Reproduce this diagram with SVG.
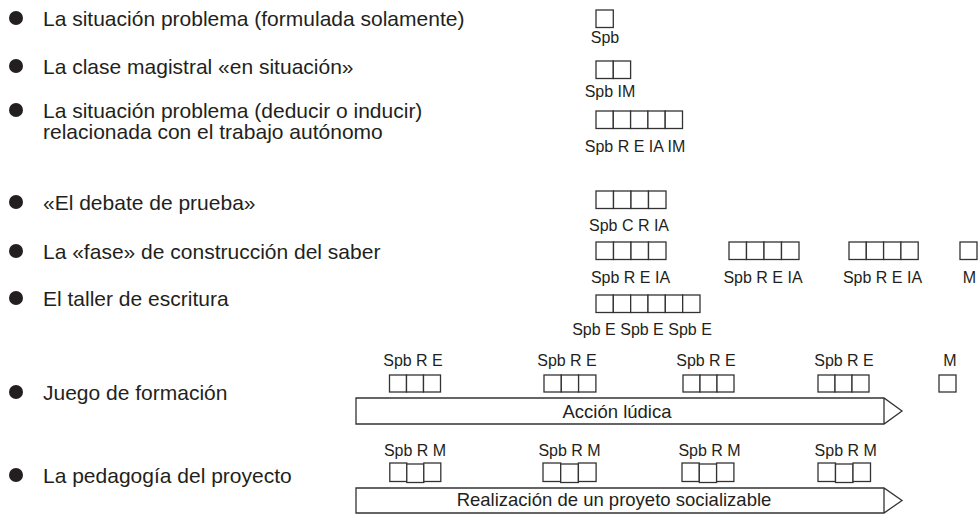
<svg xmlns="http://www.w3.org/2000/svg" width="979" height="514" viewBox="0 0 979 514">
<style>
  .main{font-family:"Liberation Sans",Arial,Helvetica,sans-serif;font-size:21px;fill:#231f20}
  .lbl{font-family:"Liberation Sans",Arial,Helvetica,sans-serif;font-size:16px;fill:#231f20;text-anchor:middle}
  .bar{font-family:"Liberation Sans",Arial,Helvetica,sans-serif;font-size:18.5px;fill:#231f20;text-anchor:middle}
  .bx{fill:#fff;stroke:#333;stroke-width:1.3}
  .arr{fill:#fff;stroke:#333;stroke-width:1.3;stroke-linejoin:miter}
  .dot{fill:#231f20}
</style>
<rect width="979" height="514" fill="#fff"/>

<g id="row1">
  <circle class="dot" cx="16" cy="18" r="7"/>
  <text class="main" x="43" y="25.5">La situación problema (formulada solamente)</text>
  <rect class="bx" x="596" y="10" width="17.3" height="17.5"/>
  <text class="lbl" x="605" y="43">Spb</text>
</g>

<g id="row2">
  <circle class="dot" cx="16" cy="66" r="7"/>
  <text class="main" x="43" y="73.5">La clase magistral «en situación»</text>
  <rect class="bx" x="596" y="61" width="17.3" height="17.5"/>
  <rect class="bx" x="613.3" y="61" width="17.3" height="17.5"/>
  <text class="lbl" x="610" y="97">Spb IM</text>
</g>

<g id="row3">
  <circle class="dot" cx="16" cy="110" r="7"/>
  <text class="main" x="43" y="117.5">La situación problema (deducir o inducir)</text>
  <text class="main" x="43" y="139">relacionada con el trabajo autónomo</text>
  <rect class="bx" x="596" y="111" width="17.3" height="17.5"/>
  <rect class="bx" x="613.3" y="111" width="17.3" height="17.5"/>
  <rect class="bx" x="630.6" y="111" width="17.3" height="17.5"/>
  <rect class="bx" x="647.9" y="111" width="17.3" height="17.5"/>
  <rect class="bx" x="665.2" y="111" width="17.3" height="17.5"/>
  <text class="lbl" x="635" y="152">Spb R E IA IM</text>
</g>

<g id="row4">
  <circle class="dot" cx="16" cy="202" r="7"/>
  <text class="main" x="43" y="209.5">«El debate de prueba»</text>
  <rect class="bx" x="596" y="191" width="17.5" height="17.5"/>
  <rect class="bx" x="613.5" y="191" width="17.5" height="17.5"/>
  <rect class="bx" x="631" y="191" width="17.5" height="17.5"/>
  <rect class="bx" x="648.5" y="191" width="17.5" height="17.5"/>
  <text class="lbl" x="629" y="231">Spb C R IA</text>
</g>

<g id="row5">
  <circle class="dot" cx="16" cy="251" r="7"/>
  <text class="main" x="43" y="258.5">La «fase» de construcción del saber</text>
  <rect class="bx" x="596" y="242" width="17.5" height="17.5"/>
  <rect class="bx" x="613.5" y="242" width="17.5" height="17.5"/>
  <rect class="bx" x="631" y="242" width="17.5" height="17.5"/>
  <rect class="bx" x="648.5" y="242" width="17.5" height="17.5"/>
  <rect class="bx" x="729" y="242" width="17.5" height="17.5"/>
  <rect class="bx" x="746.5" y="242" width="17.5" height="17.5"/>
  <rect class="bx" x="764" y="242" width="17.5" height="17.5"/>
  <rect class="bx" x="781.5" y="242" width="17.5" height="17.5"/>
  <rect class="bx" x="849" y="242" width="17.3" height="17.5"/>
  <rect class="bx" x="866.3" y="242" width="17.3" height="17.5"/>
  <rect class="bx" x="883.6" y="242" width="17.3" height="17.5"/>
  <rect class="bx" x="900.9" y="242" width="17.3" height="17.5"/>
  <rect class="bx" x="960" y="242" width="17" height="17.5"/>
  <text class="lbl" x="630.5" y="283">Spb R E IA</text>
  <text class="lbl" x="763" y="283">Spb R E IA</text>
  <text class="lbl" x="882.5" y="283">Spb R E IA</text>
  <text class="lbl" x="969.5" y="283">M</text>
</g>

<g id="row6">
  <circle class="dot" cx="16" cy="298" r="7"/>
  <text class="main" x="43" y="305.5">El taller de escritura</text>
  <rect class="bx" x="596" y="295" width="17.33" height="17.5"/>
  <rect class="bx" x="613.33" y="295" width="17.33" height="17.5"/>
  <rect class="bx" x="630.66" y="295" width="17.33" height="17.5"/>
  <rect class="bx" x="648" y="295" width="17.33" height="17.5"/>
  <rect class="bx" x="665.33" y="295" width="17.33" height="17.5"/>
  <rect class="bx" x="682.66" y="295" width="17.33" height="17.5"/>
  <text class="lbl" x="642" y="335">Spb E Spb E Spb E</text>
</g>

<g id="row7">
  <circle class="dot" cx="16" cy="392" r="7"/>
  <text class="main" x="43" y="399.5">Juego de formación</text>
  <text class="lbl" x="413" y="366">Spb R E</text>
  <text class="lbl" x="567" y="366">Spb R E</text>
  <text class="lbl" x="706" y="366">Spb R E</text>
  <text class="lbl" x="844" y="366">Spb R E</text>
  <text class="lbl" x="950" y="366">M</text>
  <rect class="bx" x="389.5" y="375" width="17" height="17"/>
  <rect class="bx" x="406.5" y="375" width="17" height="17"/>
  <rect class="bx" x="423.5" y="375" width="17" height="17"/>
  <rect class="bx" x="544" y="375" width="17.3" height="17"/>
  <rect class="bx" x="561.3" y="375" width="17.3" height="17"/>
  <rect class="bx" x="578.6" y="375" width="17.3" height="17"/>
  <rect class="bx" x="683" y="375" width="17" height="17"/>
  <rect class="bx" x="700" y="375" width="17" height="17"/>
  <rect class="bx" x="717" y="375" width="17" height="17"/>
  <rect class="bx" x="818" y="375" width="17" height="17"/>
  <rect class="bx" x="835" y="375" width="17" height="17"/>
  <rect class="bx" x="852" y="375" width="17" height="17"/>
  <rect class="bx" x="939" y="375" width="17" height="17"/>
  <path class="arr" d="M356,398 H884 L902,411 L884,424 H356 Z M884,398 V424"/>
  <text class="bar" x="617" y="417.5">Acción lúdica</text>
</g>

<g id="row8">
  <circle class="dot" cx="16" cy="475" r="7"/>
  <text class="main" x="43" y="482.5">La pedagogía del proyecto</text>
  <text class="lbl" x="415" y="456">Spb R M</text>
  <text class="lbl" x="569.5" y="456">Spb R M</text>
  <text class="lbl" x="709.5" y="456">Spb R M</text>
  <text class="lbl" x="845.7" y="456">Spb R M</text>
  <rect class="bx" x="389.8" y="463" width="17" height="18.5"/>
  <rect class="bx" x="406.8" y="464" width="17" height="18.5"/>
  <rect class="bx" x="423.8" y="463" width="17" height="18.5"/>
  <rect class="bx" x="543" y="463" width="17.7" height="18.5"/>
  <rect class="bx" x="560.7" y="464" width="17.7" height="18.5"/>
  <rect class="bx" x="578.4" y="463" width="17.7" height="18.5"/>
  <rect class="bx" x="682" y="463" width="17.3" height="18.5"/>
  <rect class="bx" x="699.3" y="464" width="17.3" height="18.5"/>
  <rect class="bx" x="716.6" y="463" width="17.3" height="18.5"/>
  <rect class="bx" x="818" y="463" width="17.5" height="18.5"/>
  <rect class="bx" x="835.5" y="464" width="17.5" height="18.5"/>
  <rect class="bx" x="853" y="463" width="17.5" height="18.5"/>
  <path class="arr" d="M356,488 H884 L902,500.5 L884,513 H356 Z M884,488 V513"/>
  <text class="bar" x="614" y="506">Realización de un proyeto socializable</text>
</g>
</svg>
